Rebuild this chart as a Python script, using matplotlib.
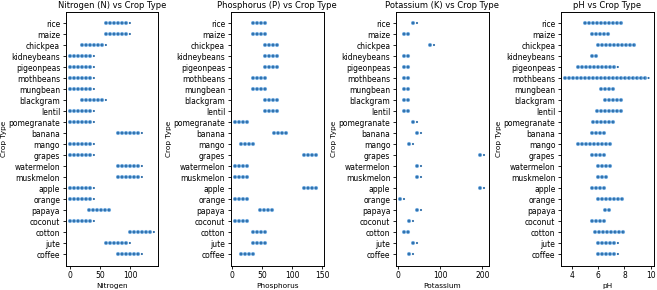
import matplotlib.pyplot as plt

crops = ["rice", "maize", "chickpea", "kidneybeans", "pigeonpeas", "mothbeans",
         "mungbean", "blackgram", "lentil", "pomegranate", "banana", "mango",
         "grapes", "watermelon", "muskmelon", "apple", "orange", "papaya",
         "coconut", "cotton", "jute", "coffee"]

# min / max of each crop
n_low = [60, 60, 20, 0, 0, 0, 0, 20, 0, 0, 80, 0, 0, 80, 80, 0, 0, 31, 0, 100, 60, 80]
n_high = [99, 100, 60, 40, 40, 40, 40, 60, 40, 40, 120, 40, 40, 120, 120, 40, 40, 70, 40, 140, 100, 120]

p_low = [35, 35, 55, 55, 55, 35, 35, 55, 55, 5, 70, 15, 120, 5, 5, 120, 5, 46, 5, 35, 35, 15]
p_high = [60, 60, 80, 80, 80, 60, 60, 80, 80, 30, 95, 40, 145, 30, 30, 145, 30, 70, 30, 60, 60, 40]

k_low = [35, 15, 75, 15, 15, 15, 15, 15, 15, 35, 45, 25, 195, 45, 45, 195, 5, 45, 25, 15, 35, 25]
k_high = [45, 25, 85, 25, 25, 25, 25, 25, 25, 45, 55, 35, 205, 55, 55, 205, 15, 55, 35, 25, 45, 35]

ph_low = [5.0, 5.5, 6.0, 5.5, 4.5, 3.5, 6.2, 6.5, 5.9, 5.6, 5.5, 4.5, 5.5, 6.0, 6.0, 5.5, 6.0, 6.5, 5.5, 5.8, 6.0, 6.0]
ph_high = [7.9, 7.0, 8.9, 6.0, 7.5, 9.9, 7.2, 7.8, 7.8, 7.2, 6.5, 7.0, 6.5, 7.0, 6.8, 6.5, 8.0, 7.0, 6.5, 8.0, 7.5, 7.5]

panels = [
    ("Nitrogen (N) vs Crop Type", "Nitrogen", n_low, n_high, [0, 50, 100]),
    ("Phosphorus (P) vs Crop Type", "Phosphorus", p_low, p_high, [0, 50, 100, 150]),
    ("Potassium (K) vs Crop Type", "Potassium", k_low, k_high, [0, 100, 200]),
    ("pH vs Crop Type", "pH", ph_low, ph_high, [4, 6, 8, 10]),
]

fig, axes = plt.subplots(1, 4, figsize=(6.57, 2.9), dpi=100)
fig.subplots_adjust(left=0.1, right=0.995, bottom=0.083, top=0.959, wspace=0.78)

for ax, (title, xlabel, lows, highs, ticks) in zip(axes, panels):
    for i, (lo, hi) in enumerate(zip(lows, highs)):
        # strip of overlapping points drawn as a dotted run
        ax.plot([lo, hi], [i, i], color="#6aa6dc", lw=3.0,
                linestyle=(0, (0.01, 0.95)), dash_capstyle="round")
        ax.plot([lo, hi], [i, i], color="#2a6aa6", lw=1.6,
                linestyle=(0, (0.01, 1.78)), dash_capstyle="round")
    ax.set_yticks(range(len(crops)))
    ax.set_yticklabels(crops)
    ax.set_ylim(len(crops) - 1 + 1.05, -1.05)
    ax.set_xticks(ticks)
    ax.set_title(title, fontsize=6.0, pad=3)
    ax.set_xlabel(xlabel, fontsize=5.3, labelpad=2)
    ax.set_ylabel("Crop Type", fontsize=5.3, labelpad=1)
    ax.tick_params(labelsize=5.5, length=2.5, pad=1.5, width=0.6)
    for s in ax.spines.values():
        s.set_linewidth(0.7)

fig.savefig("out.png", dpi=100)
